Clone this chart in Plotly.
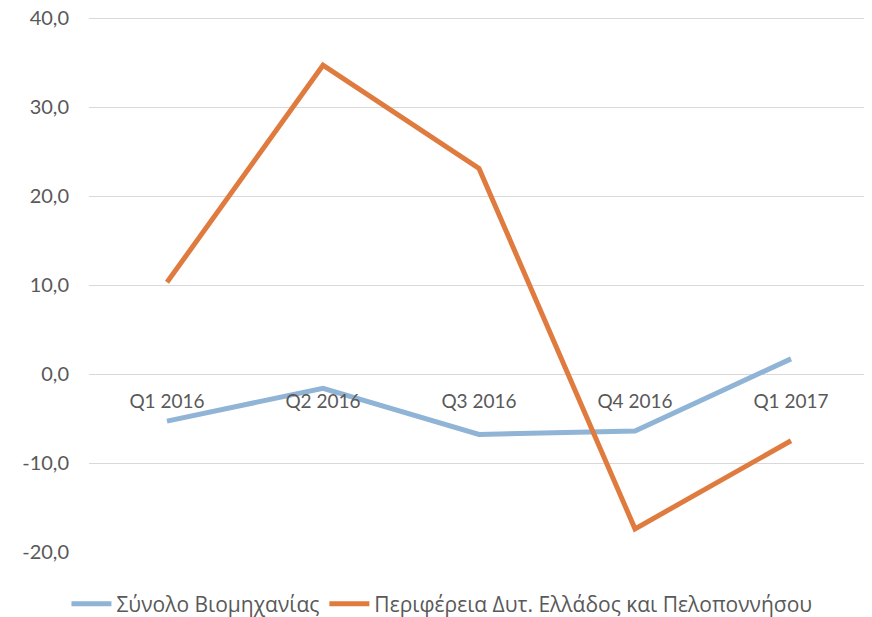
import plotly.graph_objects as go

quarters = ["Q1 2016", "Q2 2016", "Q3 2016", "Q4 2016", "Q1 2017"]
industry_total = [-5.3, -1.6, -6.8, -6.4, 1.7]
west_greece_pelop = [10.3, 34.7, 23.1, -17.4, -7.5]

y_ticks = [-20, -10, 0, 10, 20, 30, 40]
y_tick_labels = ["-20,0", "-10,0", "0,0", "10,0", "20,0", "30,0", "40,0"]

# a little headroom above 40 so the top gridline is kept
y_min, y_max = -20, 40.45

fig = go.Figure()
fig.add_trace(go.Scatter(
    x=quarters, y=industry_total, mode="lines",
    name="Σύνολο Βιομηχανίας",
    line=dict(color="#8FB4D6", width=5),
))
fig.add_trace(go.Scatter(
    x=quarters, y=west_greece_pelop, mode="lines",
    name="Περιφέρεια Δυτ. Ελλάδος και Πελοποννήσου",
    line=dict(color="#E07B3F", width=5),
))

axis_font = dict(family="Lato, sans-serif", size=19, color="#595959")

# the page body adds an 8px offset, so the figure is made 8px bigger
# and the margins are trimmed accordingly
fig.update_layout(
    width=880, height=625,
    margin=dict(l=81, r=19, t=6, b=81),
    plot_bgcolor="white", paper_bgcolor="white",
    showlegend=True,
    legend=dict(
        orientation="h", x=0.4525, xanchor="center", y=-0.0967, yanchor="middle",
        font=dict(family="Open Sans, sans-serif", size=21, color="#595959"),
        itemwidth=40,
    ),
    xaxis=dict(
        anchor="free", position=(0 - y_min) / (y_max - y_min),
        showgrid=False, showline=False, zeroline=False, ticks="",
        tickfont=axis_font, ticklabelstandoff=14, automargin=False,
        range=[-0.5, 4.5],
    ),
    yaxis=dict(
        range=[y_min, y_max], tickvals=y_ticks, ticktext=y_tick_labels,
        showgrid=True, gridcolor="#D9D9D9", gridwidth=1,
        zeroline=False, showline=False, ticks="", automargin=False,
        tickfont=dict(family="Lato, sans-serif", size=20, color="#595959"),
        ticklabelstandoff=19, ticklabeloverflow="allow",
    ),
)

fig.write_html("out.html")
